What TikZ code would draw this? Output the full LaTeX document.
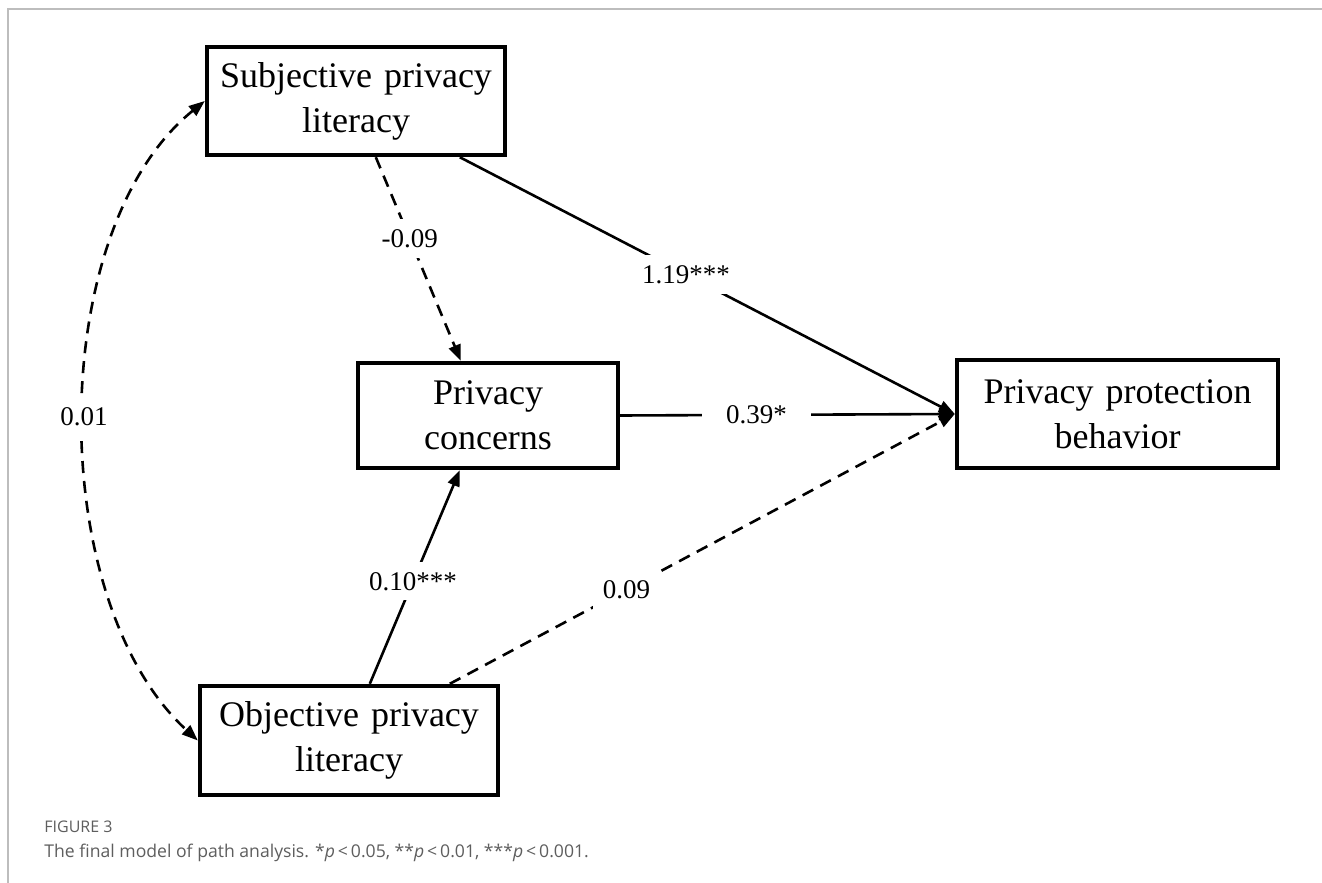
\documentclass[tikz,border=0pt]{standalone}
\usepackage{fontspec}
\setmainfont{Liberation Serif}
\newfontfamily\capfont{Open Sans}
\usetikzlibrary{arrows.meta}
\definecolor{framegray}{HTML}{BDBDBD}
\definecolor{capgray}{HTML}{5E5E5E}
\begin{document}
\begin{tikzpicture}[x=0.5pt,y=-0.5pt,
  >={Triangle[length=8pt,width=6pt]},
  box/.style={draw, line width=2.2pt, inner sep=0pt, align=center, font=\fontsize{18}{22.5}\selectfont},
  conn/.style={line width=1.3pt, ->},
  dsh/.style={dash pattern=on 6pt off 4pt},
  lbl/.style={fill=white, inner sep=5pt, font=\fontsize{13.5}{16}\selectfont},
  captxt/.style={anchor=base west, inner sep=0pt, text=capgray}]
\useasboundingbox (0,0) rectangle (1322,883);
\fill[white] (0,0) rectangle (1322,883);
\draw[framegray, line width=1pt] (8,883) -- (8,9) -- (1322,9);

\node[box, text width=149pt, minimum height=54pt] (subj) at (356,101) {Subjective privacy\\literacy};
\node[box, text width=130pt, minimum height=52.5pt] (pc) at (488,415.5) {Privacy\\concerns};
\node[box, text width=160.5pt, minimum height=54pt] (ppb) at (1117.5,414) {Privacy protection\\behavior};
\node[box, text width=149pt, minimum height=54.5pt] (obj) at (349,740.5) {Objective privacy\\literacy};

\draw[conn, dsh] ([xshift=85.5pt]subj.south west) -- node[lbl, pos=0.4] {-0.09} ([xshift=52.5pt]pc.north west);
\draw[conn] ([xshift=127.5pt]subj.south west) -- node[lbl, pos=0.457] {1.19***} (ppb.west);
\draw[conn] (pc.east) -- node[lbl, pos=0.407, inner xsep=12pt] {0.39*} (ppb.west);
\draw[conn] ([xshift=86pt]obj.north west) -- node[lbl, pos=0.48] {0.10***} ([xshift=52pt]pc.south west);
\draw[conn, dsh] ([xshift=126pt]obj.north west) -- node[lbl, pos=0.35] {0.09} (ppb.west);
\draw[conn, dsh, <->] (subj.west) .. controls (45,230) and (45,600) .. node[lbl, pos=0.5, inner sep=4pt] {0.01} (obj.west);

\node[captxt, font=\capfont\fontsize{8}{9}\selectfont] (fig) at (44,832) {FIGURE 3};
\node[captxt, font=\capfont\fontsize{8.8}{10}\selectfont] (cap) at (44,857) {The final model of path analysis. *\textit{p}\,<\,0.05, **\textit{p}\,<\,0.01, ***\textit{p}\,<\,0.001.};
\end{tikzpicture}
\end{document}
